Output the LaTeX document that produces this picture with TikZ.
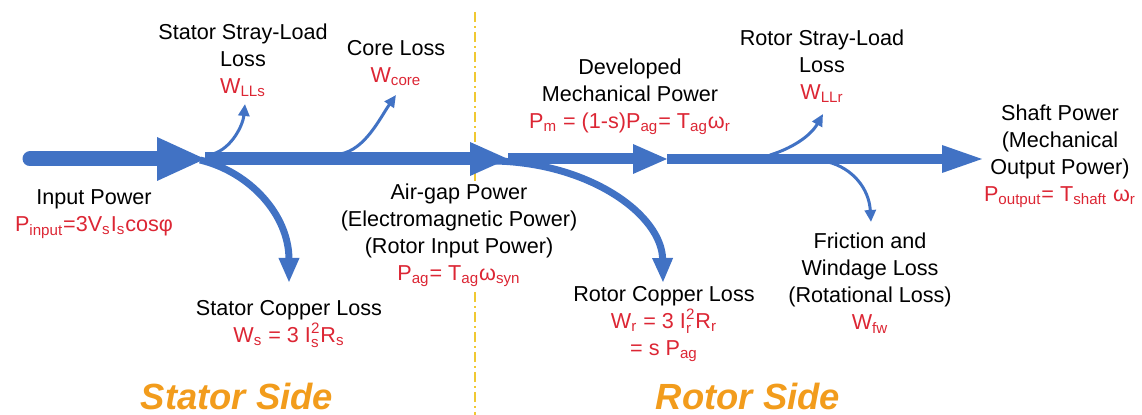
\documentclass[tikz,border=0pt]{standalone}
\usepackage{amsmath}
\usepackage{fontspec}
\setmainfont{Liberation Sans}
\usetikzlibrary{arrows.meta}
\definecolor{flowblue}{RGB}{65,114,196}
\definecolor{lossred}{RGB}{220,38,52}
\definecolor{sideorange}{RGB}{242,156,28}
\definecolor{gapgold}{RGB}{240,200,50}
\newcommand{\rd}[1]{\textcolor{lossred}{#1}}
\newcommand{\sbs}[1]{\textsubscript{#1}}
\newcommand{\sps}[1]{\textsuperscript{#1}}
\newcommand{\cur}[1]{\ensuremath{\text{I}_{\text{#1}}^{\text{2}}}}
\tikzset{
  lbl/.style={align=center, font=\fontsize{10.8}{13.5}\selectfont, inner sep=1pt},
  thinbranch/.style={flowblue, line width=1.5pt, -{Triangle[length=6pt,width=5.5pt]}},
  thickbranch/.style={flowblue, line width=3.5pt, -{Triangle[length=12.5pt,width=9.5pt]}},
  sidelbl/.style={text=sideorange, font=\fontsize{18.2}{20}\selectfont\bfseries\itshape},
}
\begin{document}
\begin{tikzpicture}[x=0.5pt,y=-0.5pt]
\useasboundingbox (0,0) rectangle (1142,415);
% air gap
\coordinate (gtop) at (475,12);
\coordinate (gbot) at (475,415);
\draw[gapgold, line width=1pt, dash pattern=on 5pt off 2pt on 1pt off 2pt] (gtop) -- (gbot);
% power flow
\coordinate (in) at (30,159);
\coordinate (h1) at (157,159);
\coordinate (t1) at (205,159);
\coordinate (h2) at (470,159);
\coordinate (t2) at (508,159);
\coordinate (h3) at (633,159);
\coordinate (t3) at (667,159);
\coordinate (h4) at (942,159);
\coordinate (t4) at (982,159);
% losses
\coordinate (sll0) at (213,154);
\coordinate (sll1) at (245,104);
\coordinate (core0) at (340,154);
\coordinate (core1) at (396,95);
\coordinate (scl0) at (200,160);
\coordinate (scl1) at (289,283);
\coordinate (rcl0) at (495,161);
\coordinate (rcl1) at (663,283);
\coordinate (llr0) at (770,155);
\coordinate (llr1) at (823,114);
\coordinate (fw0) at (828,162);
\coordinate (fw1) at (871,222);
\draw[thinbranch] (sll0) .. controls (232,148) and (243,125) .. (sll1);
\draw[thinbranch] (core0) .. controls (365,150) and (380,118) .. (core1);
\draw[thickbranch] (scl0) .. controls (250,172) and (289,215) .. (scl1);
\draw[thickbranch] (rcl0) .. controls (590,163) and (662,215) .. (rcl1);
\draw[thinbranch] (llr0) .. controls (790,149) and (810,137) .. (llr1);
\draw[thinbranch] (fw0) .. controls (852,168) and (869,188) .. (fw1);
\draw[flowblue, line width=7.5pt, line cap=round] (in) -- (h1);
\draw[flowblue, line width=6.5pt] (t1) -- (h2);
\draw[flowblue, line width=5.5pt] (t2) -- (h3);
\draw[flowblue, line width=5pt] (t3) -- (h4);
\foreach \b/\t/\h in {157/205/22, 470/508/17, 633/667/15, 942/982/14}
  \fill[flowblue] (\b,159-\h) -- (\t,159) -- (\b,159+\h) -- cycle;
% labels
\node[lbl] (inlbl) at (94,214) {Input Power\\\rd{P\sbs{input}=3V\sbs{s}I\sbs{s}cosφ}};
\node[lbl] (slllbl) at (243,60) {Stator Stray-Load\\Loss\\\rd{W\sbs{LLs}}};
\node[lbl] (corelbl) at (396,63) {Core Loss\\\rd{W\sbs{core}}};
\node[lbl, fill=white] (aglbl) at (459,235) {Air-gap Power\\(Electromagnetic Power)\\(Rotor Input Power)\\\rd{P\sbs{ag}= T\sbs{ag}ω\sbs{syn}}};
\node[lbl] (scllbl) at (289,324) {Stator Copper Loss\\\rd{W\sbs{s} = 3 \cur{s}R\sbs{s}}};
\node[lbl] (devlbl) at (630,97) {Developed\\Mechanical Power\\\rd{P\sbs{m} = (1-s)P\sbs{ag}= T\sbs{ag}ω\sbs{r}}};
\node[lbl] (rcllbl) at (664,324) {Rotor Copper Loss\\\rd{W\sbs{r} = 3 \cur{r}R\sbs{r}}\\\rd{= s P\sbs{ag}}};
\node[lbl] (llrlbl) at (822,66) {Rotor Stray-Load\\Loss\\\rd{W\sbs{LLr}}};
\node[lbl] (fwlbl) at (870,283) {Friction and\\Windage Loss\\(Rotational Loss)\\\rd{W\sbs{fw}}};
\node[lbl] (shaftlbl) at (1060,156) {Shaft Power\\(Mechanical\\Output Power)\\\rd{P\sbs{output}= T\sbs{shaft} ω\sbs{r}}};
\node[sidelbl] (stator) at (237,397) {Stator Side};
\node[sidelbl] (rotor) at (748,397) {Rotor Side};
\end{tikzpicture}
\end{document}
